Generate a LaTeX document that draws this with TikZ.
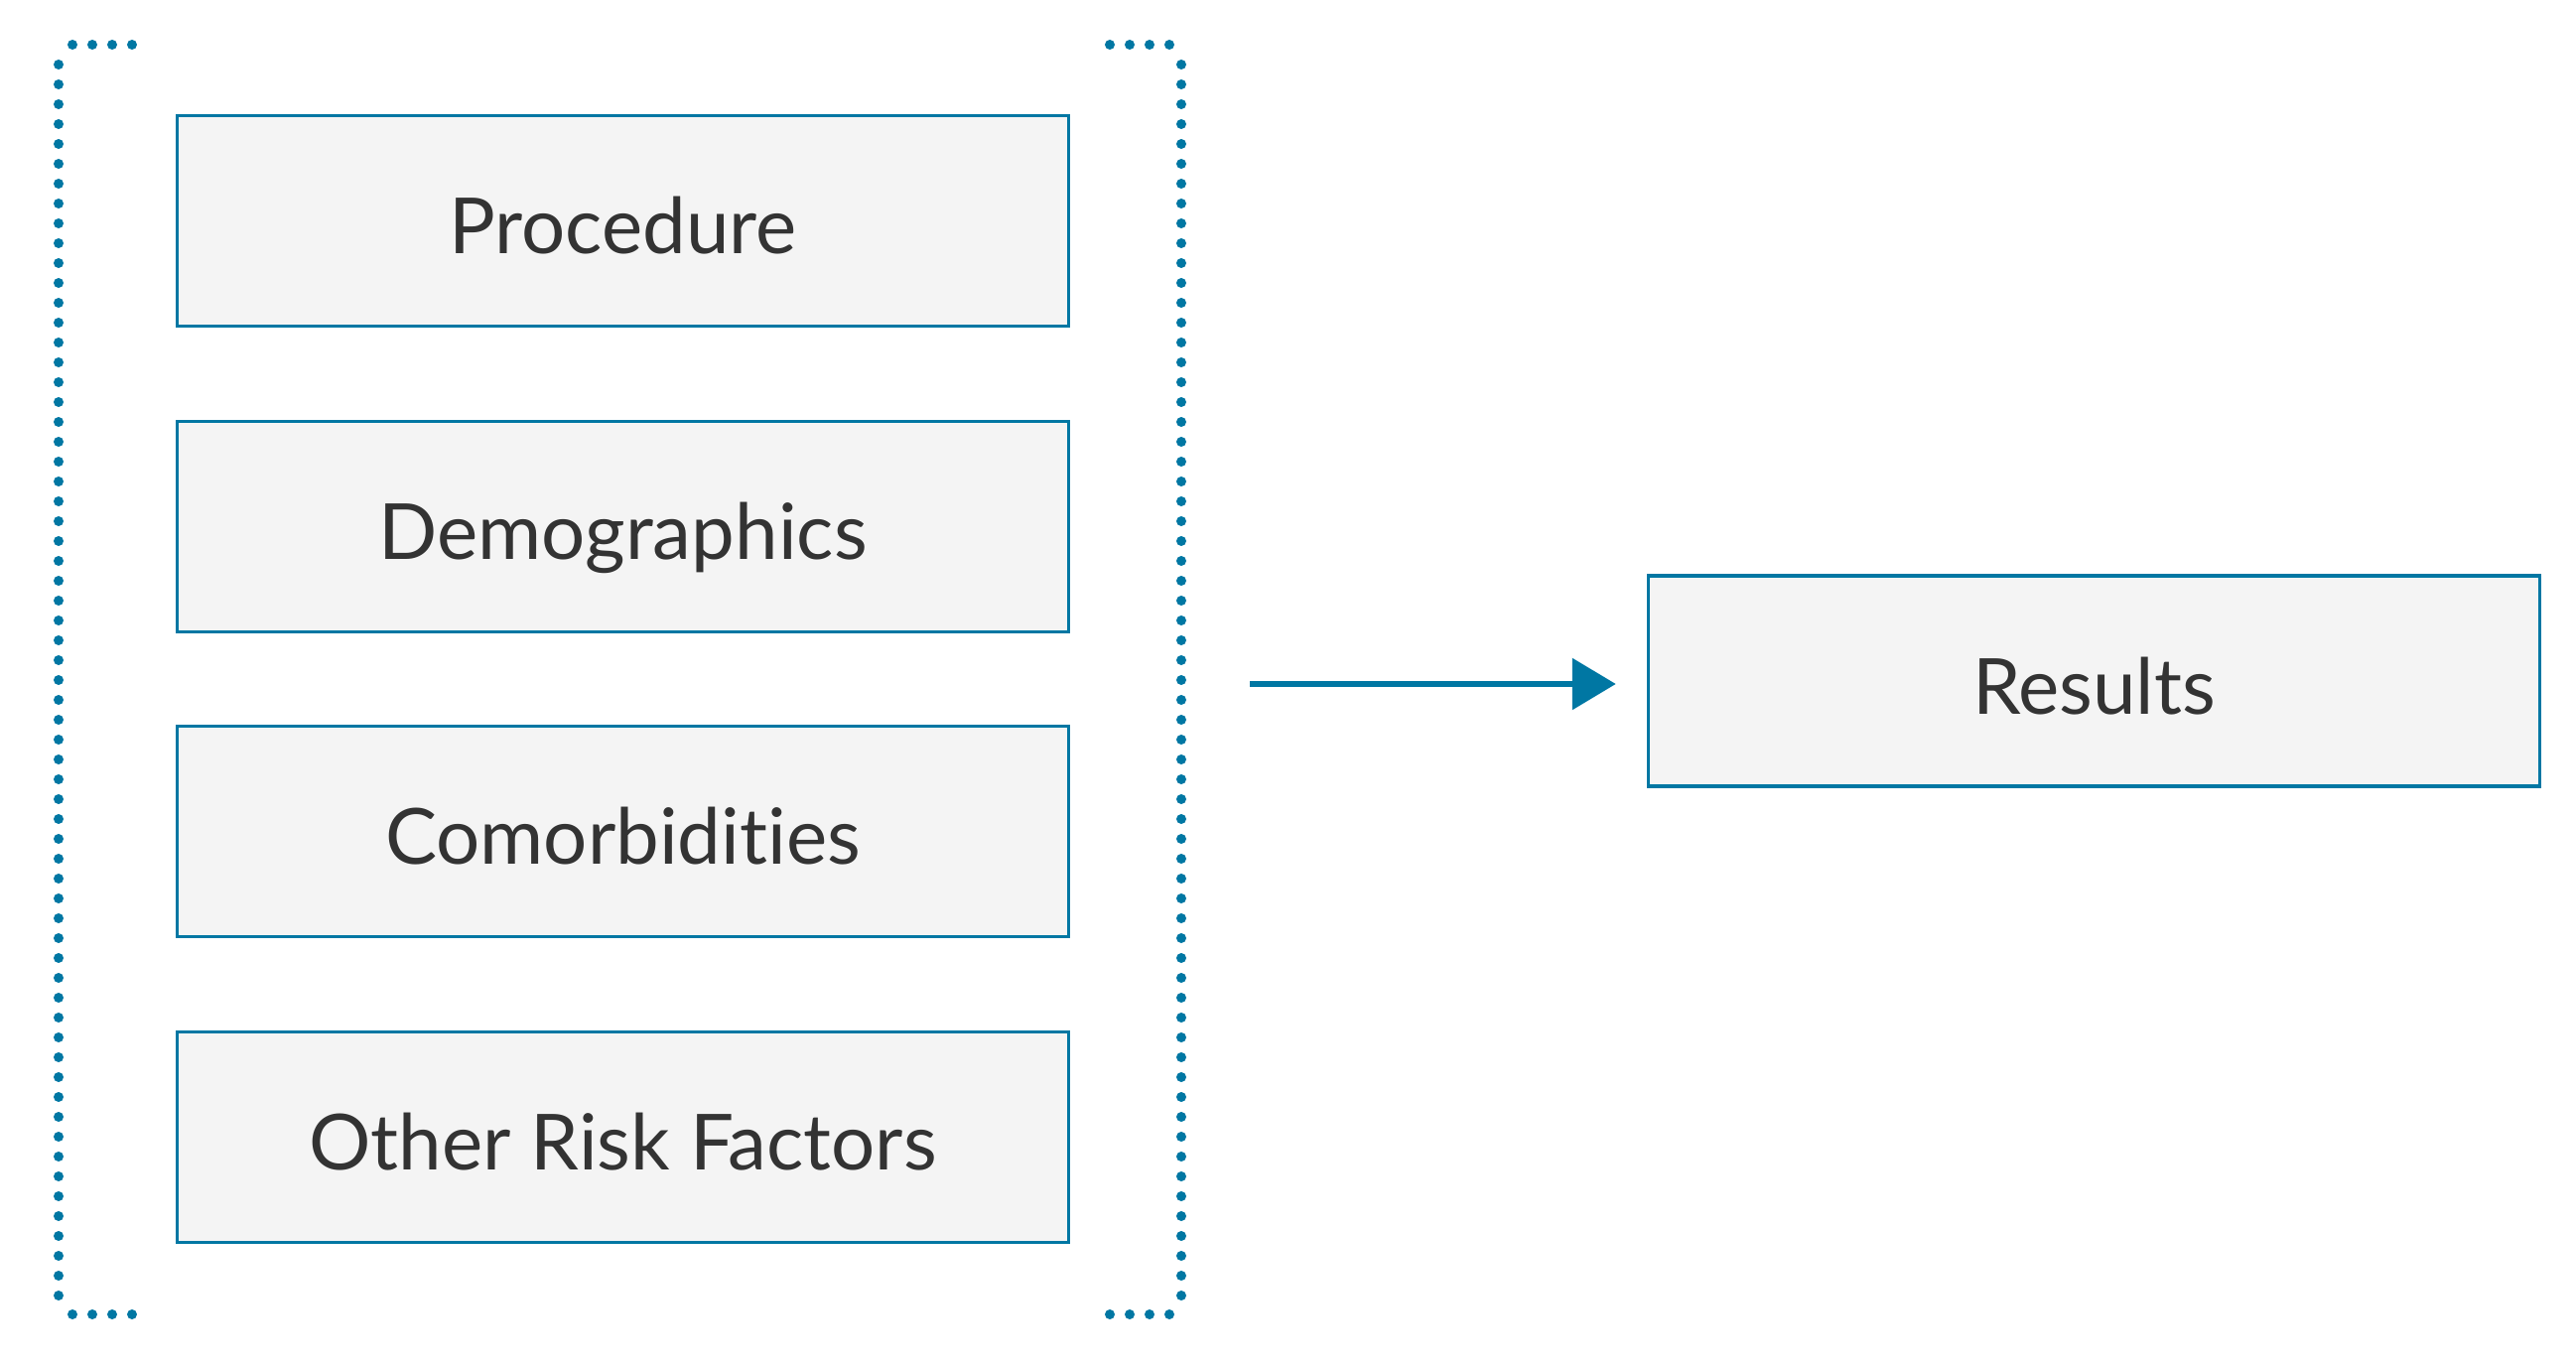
\documentclass[tikz,border=0pt]{standalone}
\usepackage{fontspec}
\setmainfont[Ligatures=NoCommon]{Lato}
\usetikzlibrary{arrows.meta}
\definecolor{blu}{HTML}{0077A3}
\definecolor{boxfill}{HTML}{F4F4F4}
\definecolor{txt}{HTML}{333333}
\begin{document}
\begin{tikzpicture}[x=1pt,y=-1pt,
  factor/.style={draw=blu, line width=3.5pt, fill=boxfill, minimum width=898pt, minimum height=212pt, inner sep=0pt, text=txt, text height=84pt, text depth=18pt, font=\fontsize{78}{90}\selectfont},
  dotline/.style={blu, line width=10pt, line cap=round, dash pattern=on 0pt off 20pt},
  flow/.style={blu, line width=6pt, -{Triangle[length=44pt,width=51pt]}}]
\useasboundingbox (0,0) rectangle (2595,1376);
\node[factor] (proc) at (627.5,222.5) {Procedure};
\node[factor] (demo) at (627.5,530.5) {Demographics};
\node[factor] (como) at (627.5,837.5) {Comorbidities};
\node[factor] (other) at (627.5,1145.5) {Other Risk Factors};
\node[factor] (res) at (2109.5,686) {Results};
% brackets
\draw[dotline] (73,45) -- (144,45);
\draw[dotline] (59,65) -- (59,1315);
\draw[dotline] (73,1324) -- (144,1324);
\draw[dotline] (1178,45) -- (1108,45);
\draw[dotline] (1190,65) -- (1190,1315);
\draw[dotline] (1178,1324) -- (1108,1324);
\coordinate (start) at (1259,689);
\draw[flow] (start) -- ([xshift=-31pt]res.west |- start);
\end{tikzpicture}
\end{document}
